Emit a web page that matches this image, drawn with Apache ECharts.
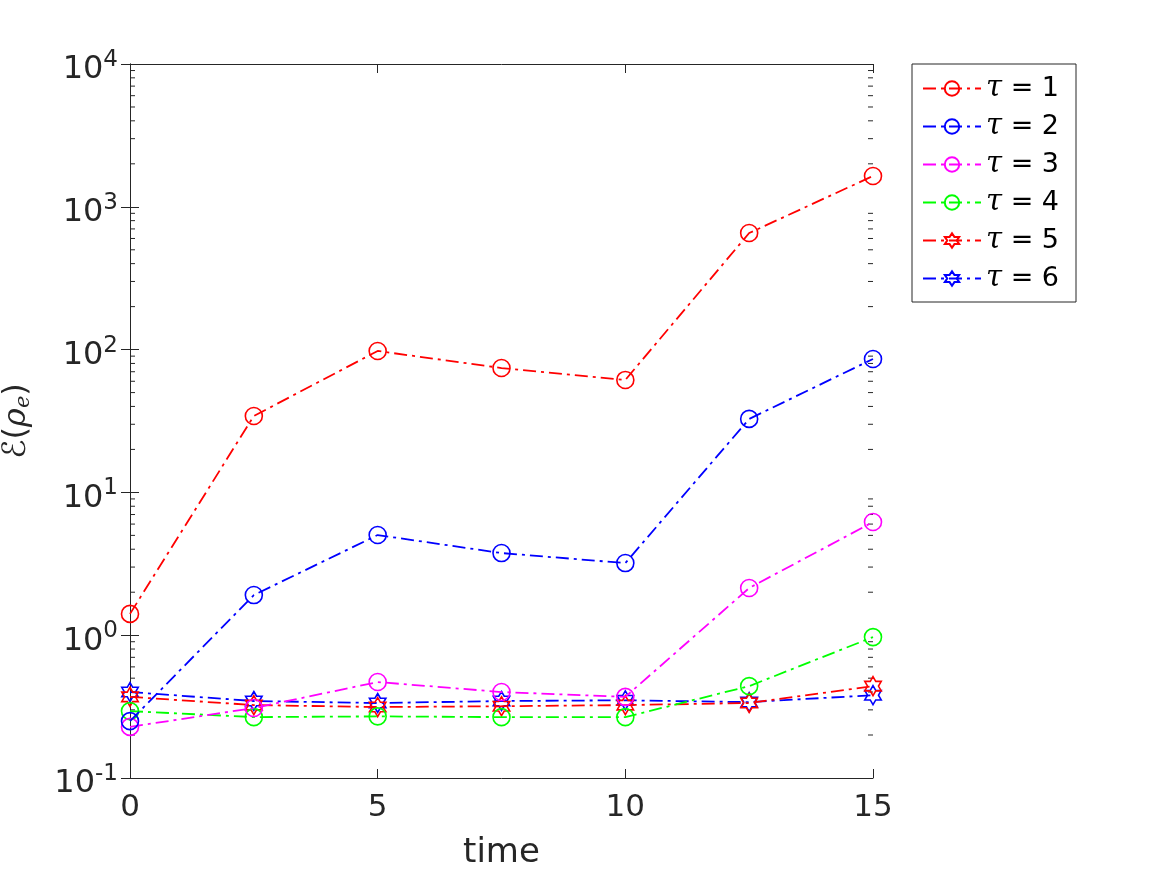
<!DOCTYPE html>
<html><head><meta charset="utf-8">
<script src="https://cdn.jsdelivr.net/npm/echarts@6/dist/echarts.min.js"></script>
<style>html,body{margin:0;padding:0;background:#fff}#c{width:1167px;height:875px}</style>
</head><body><div id="c"></div>
<script>
const times = [0, 2.5, 5, 7.5, 10, 12.5, 15];
const tau1 = [1.41, 34.3, 97.8, 74.3, 61.3, 655, 1643];
const tau2 = [0.25, 1.91, 5.03, 3.76, 3.2, 32.7, 86];
const tau3 = [0.228, 0.309, 0.47, 0.40, 0.37, 2.14, 6.2];
const tau4 = [0.294, 0.267, 0.27, 0.267, 0.267, 0.44, 0.97];
const tau5 = [0.37, 0.324, 0.314, 0.318, 0.324, 0.335, 0.44];
const tau6 = [0.40, 0.346, 0.335, 0.346, 0.35, 0.34, 0.38];
const seriesNames = ['τ = 1', 'τ = 2', 'τ = 3', 'τ = 4', 'τ = 5', 'τ = 6'];
const minorVals = [];
[0.1, 1, 10, 100, 1000].forEach(d => { for (let k = 2; k <= 9; k++) minorVals.push(+(k * d).toPrecision(3)); });

const hexagram = 'path://M0,-100 L28.87,-50 L86.6,-50 L57.7,0 L86.6,50 L28.87,50 L0,100 L-28.87,50 L-86.6,50 L-57.7,0 L-86.6,-50 L-28.87,-50 Z';
const dashDot = [13, 5, 3, 5];
const colors = ['#ff0000', '#0000ff', '#ff00ff', '#00ff00', '#ff0000', '#0000ff'];
const dataSets = [tau1, tau2, tau3, tau4, tau5, tau6];
const axisColor = '#262626';

const chart = echarts.init(document.getElementById('c'));
const lineSeries = dataSets.map((d, i) => ({
  name: seriesNames[i],
  type: 'line',
  data: d.map((v, j) => [times[j], v]),
  symbol: i < 4 ? 'circle' : hexagram,
  symbolSize: i < 4 ? 17 : 19,
  symbolKeepAspect: true,
  showAllSymbol: true,
  lineStyle: { color: colors[i], width: 1.8, type: dashDot },
  itemStyle: { color: 'rgba(255,255,255,0)', borderColor: colors[i], borderWidth: 1.6 },
  emphasis: { disabled: true },
  z: 10 - i
}));

const ticksSeries = {
  type: 'custom',
  silent: true,
  clip: false,
  data: minorVals.map(v => [0, v]),
  renderItem: function (params, api) {
    const v = api.value(1);
    const l = api.coord([0, v]);
    const r = api.coord([15, v]);
    return {
      type: 'group',
      children: [
        { type: 'line', shape: { x1: l[0], y1: l[1], x2: l[0] + 5, y2: l[1] }, style: { stroke: axisColor, lineWidth: 1 } },
        { type: 'line', shape: { x1: r[0] - 5, y1: r[1], x2: r[0], y2: r[1] }, style: { stroke: axisColor, lineWidth: 1 } }
      ]
    };
  },
  z: 1
};

const logLabel = v => {
  const e = Math.round(Math.log10(v));
  return '{b|10}{s|' + e + '}';
};

chart.setOption({
  animation: false,
  grid: { left: 130, top: 64, width: 743, height: 714, containLabel: false, outerBoundsMode: 'none' },
  legend: {
    data: seriesNames,
    orient: 'vertical',
    left: 912, top: 64,
    backgroundColor: '#fff',
    borderColor: axisColor, borderWidth: 1,
    padding: [10, 17, 9, 10],
    itemWidth: 58, itemHeight: 18, itemGap: 9,
    textStyle: { color: '#000', fontSize: 27, lineHeight: 28, fontFamily: 'DejaVu Sans',
      rich: { i: { fontStyle: 'italic', fontSize: 29, lineHeight: 28, fontFamily: 'DejaVu Serif' } } },
    formatter: n => '{i|τ}' + n.slice(1)
  },
  xAxis: [{
    type: 'value', min: 0, max: 15, interval: 5,
    name: 'time', nameLocation: 'middle', nameGap: 58,
    nameTextStyle: { fontSize: 34, color: axisColor, fontFamily: 'DejaVu Sans' },
    axisLine: { lineStyle: { color: axisColor, width: 1 } },
    axisTick: { inside: true, length: 9, lineStyle: { color: axisColor } },
    axisLabel: { fontSize: 31, color: axisColor, margin: 14, fontFamily: 'DejaVu Sans' },
    splitLine: { show: false }
  }, {
    type: 'value', min: 0, max: 15, interval: 5, position: 'top',
    axisLine: { show: true, lineStyle: { color: axisColor, width: 1 } },
    axisTick: { inside: true, length: 9, lineStyle: { color: axisColor } },
    axisLabel: { show: false }, splitLine: { show: false }
  }],
  yAxis: [{
    type: 'log', logBase: 10, min: 0.1, max: 10000,
    name: '{a|ℰ(}{c|ρ}{b|e}{a|)}', nameLocation: 'middle', nameGap: 96, nameRotate: 90,
    nameTextStyle: { color: axisColor, rich: {
      a: { fontSize: 32, fontFamily: 'DejaVu Sans', color: axisColor },
      c: { fontSize: 32, fontFamily: 'DejaVu Serif', fontStyle: 'italic', color: axisColor },
      b: { fontSize: 21, fontFamily: 'DejaVu Serif', fontStyle: 'italic', color: axisColor, padding: [14, 0, 0, 0] } } },
    axisLine: { show: true, lineStyle: { color: axisColor, width: 1 } },
    axisTick: { inside: true, length: 9, lineStyle: { color: axisColor } },
    axisLabel: { formatter: logLabel, margin: 12, color: axisColor,
      rich: { b: { fontSize: 32, fontFamily: 'DejaVu Sans', color: axisColor, padding: [12, 0, 0, 0] },
              s: { fontSize: 23, fontFamily: 'DejaVu Sans', color: axisColor, padding: [0, 0, 8, 0] } } },
    splitLine: { show: false }
  }, {
    type: 'log', logBase: 10, min: 0.1, max: 10000, position: 'right',
    axisLine: { show: true, lineStyle: { color: axisColor, width: 1 } },
    axisTick: { inside: true, length: 9, lineStyle: { color: axisColor } },
    axisLabel: { show: false }, splitLine: { show: false }
  }],
  series: lineSeries.concat([ticksSeries])
});
</script></body></html>
